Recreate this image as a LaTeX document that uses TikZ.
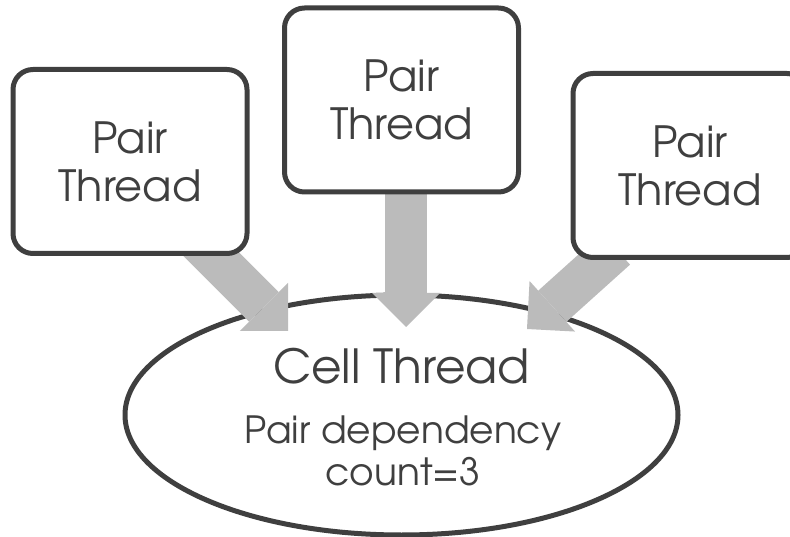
\documentclass[tikz,border=0pt]{standalone}
\usepackage{fontspec}
\setmainfont{TeX Gyre Adventor}
\usetikzlibrary{shapes.geometric,arrows.meta}
\definecolor{ink}{HTML}{3F3F3F}
\definecolor{flow}{HTML}{BBBBBB}
\tikzset{
  threadbox/.style={draw=ink, line width=5pt, rounded corners=20pt, fill=white,
    minimum width=234pt, minimum height=184pt, inner sep=0pt,
    align=center, text=ink, font=\fontsize{43}{48}\selectfont},
  cellshape/.style={ellipse, draw=ink, line width=5pt, fill=white,
    minimum width=553pt, minimum height=240pt, inner sep=0pt},
  celltext/.style={anchor=base, text=ink, inner sep=0pt},
  flowarrow/.style={draw=flow, line width=42pt,
    -{Triangle[length=34pt, width=68pt, line width=0pt]}}
}
\begin{document}
\begin{tikzpicture}[x=1pt, y=-1pt]
  \useasboundingbox (0,0) rectangle (790,537);
  % cell thread ellipse with its labels
  \node[cellshape] (cell) at (401.5,415) {};
  \node[celltext, font=\fontsize{47}{47}\selectfont] (title) at (401.5,383) {Cell Thread};
  \node[celltext, font=\fontsize{37.5}{37.5}\selectfont] (dep) at (403,443) {Pair dependency};
  \node[celltext, font=\fontsize{37.5}{37.5}\selectfont] (cnt) at (403,485) {count=3};
  % arrow ends
  \coordinate (ls) at (195,238);
  \coordinate (lt) at (288,331);
  \coordinate (ms) at (406,180);
  \coordinate (mt) at (406,327);
  \coordinate (rs) at (616,249);
  \coordinate (rt) at (527,329);
  \draw[flowarrow] (ls) -- (lt);
  \draw[flowarrow] (ms) -- (mt);
  \draw[flowarrow] (rs) -- (rt);
  % pair threads
  \node[threadbox] (left) at (130,161.5) {Pair\\Thread};
  \node[threadbox] (mid) at (401.5,100) {Pair\\Thread};
  \node[threadbox] (right) at (690,165.5) {Pair\\Thread};
\end{tikzpicture}
\end{document}
